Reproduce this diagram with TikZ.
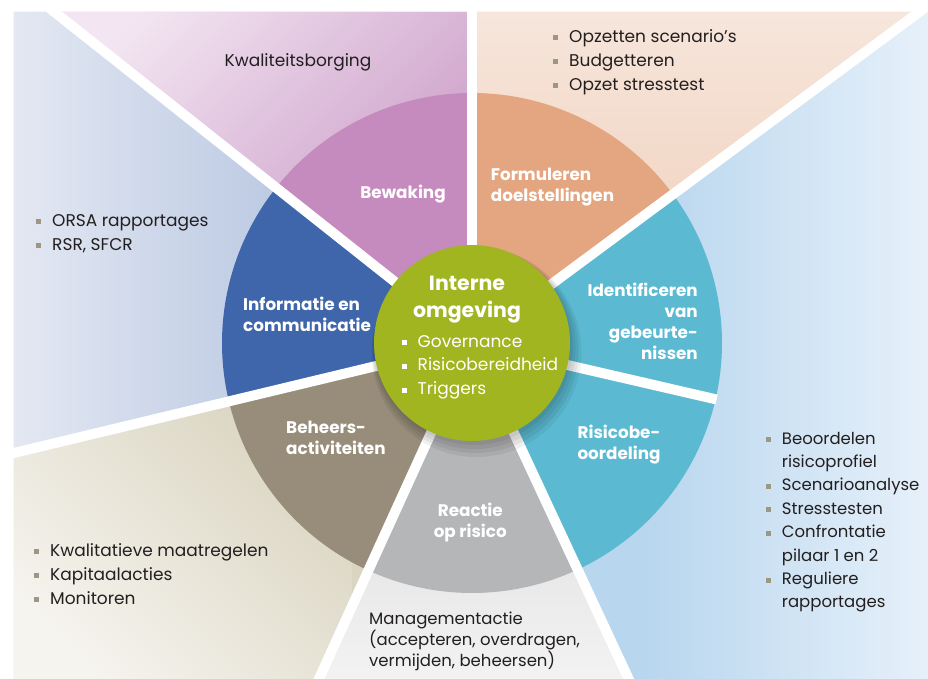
\documentclass[tikz,border=0pt]{standalone}
\usepackage{fontspec}
\setmainfont{Poppins}
\usepackage{tikz}
\usetikzlibrary{positioning}
\definecolor{tealseg}{HTML}{5BBAD2}
\definecolor{orangeseg}{HTML}{E3A680}
\definecolor{purpleseg}{HTML}{C58BBE}
\definecolor{blueseg}{HTML}{3F65AA}
\definecolor{brownseg}{HTML}{978D7A}
\definecolor{grayseg}{HTML}{B5B6B8}
\definecolor{greenhub}{HTML}{A0B51F}
\definecolor{bulletgray}{HTML}{9C9684}
\definecolor{textdark}{HTML}{231F20}
\definecolor{rblueA}{HTML}{B8D6EE}
\definecolor{rblueB}{HTML}{F2F7FD}
\definecolor{peachA}{HTML}{F8EAE1}
\definecolor{peachB}{HTML}{F1D5C3}
\definecolor{lilacA}{HTML}{F3E6F2}
\definecolor{lilacB}{HTML}{CB9CC7}
\definecolor{lblueA}{HTML}{E5E9F3}
\definecolor{lblueB}{HTML}{BDCBE3}
\definecolor{beigeA}{HTML}{F6F4EF}
\definecolor{beigeB}{HTML}{DAD5C1}
\definecolor{lgrayA}{HTML}{E2E2E2}
\definecolor{lgrayB}{HTML}{F3F3F3}
\tikzstyle{sep} = [line width=10pt, white]
\tikzstyle{listtext} = [inner sep=0pt, align=left, text=textdark, font=\fontsize{17}{24}\selectfont]
\tikzstyle{seglabel} = [inner sep=0pt, text=white, font=\fontsize{16.8}{21}\selectfont\bfseries]
\newcommand{\sqb}[1][bulletgray]{\makebox[16pt][l]{\textcolor{#1}{\rule[2pt]{5pt}{5pt}}}}

\begin{document}
\begin{tikzpicture}[x=1pt, y=1pt]
    \useasboundingbox (-472,-336) rectangle (456,343);

    % outer fields
    \begin{scope}
        \clip (0,0) -- (156.7,-336) -- (456,-336) -- (456,331) -- (447,331) -- cycle;
        \fill[rblueA] (0,-340) rectangle (460,340);
        \shade[left color=rblueA, right color=rblueB] (170,-340) rectangle (530,340);
    \end{scope}
    \begin{scope}
        \clip (0,0) -- (447,331) -- (0,331) -- cycle;
        \fill[peachB] (0,0) rectangle (460,340);
        \shade[top color=peachA, bottom color=peachB] (0,120) rectangle (460,380);
    \end{scope}
    \begin{scope}
        \clip (0,0) -- (0,331) -- (-417.6,331) -- cycle;
        \fill[lilacB] (-430,0) rectangle (0,340);
        \shade[top color=lilacA, bottom color=lilacB, shading angle=45] (-430,60) rectangle (0,340);
    \end{scope}
    \begin{scope}
        \clip (0,0) -- (-417.6,331) -- (-458,331) -- (-458,-110) -- cycle;
        \fill[lblueB] (-470,-120) rectangle (0,340);
        \shade[left color=lblueA, right color=lblueB] (-470,-120) rectangle (-200,340);
    \end{scope}
    \begin{scope}
        \clip (0,0) -- (-458,-110) -- (-458,-336) -- (-153,-336) -- cycle;
        \fill[beigeB] (-470,-340) rectangle (0,0);
        \shade[top color=beigeB, bottom color=beigeA, shading angle=-45] (-470,-340) rectangle (-120,-60);
    \end{scope}
    \begin{scope}
        \clip (0,0) -- (-153,-336) -- (156.7,-336) -- cycle;
        \fill[lgrayA] (-160,-340) rectangle (160,0);
        \shade[top color=lgrayA, bottom color=lgrayB] (-160,-340) rectangle (160,-160);
    \end{scope}

    % disc
    \foreach \a/\b/\c in {-13/36.5/tealseg, 36.5/90/orangeseg, 90/141.6/purpleseg, 141.6/193.5/blueseg,
                          193.5/245.5/brownseg, 245.5/295/grayseg, 295/347/tealseg}
        \fill[\c] (0,0) -- (\a:250) arc[start angle=\a, end angle=\b, radius=250] -- cycle;

    \foreach \a in {36.5, 90, 141.6, 193.5, 245.5, 295}
        \draw[sep] (0,0) -- (\a:600);
    \draw[sep] (0,0) -- (-13:251);

    % hub
    \foreach \s in {7,5,3,1}
        \fill[black, opacity=0.06] (0.5*\s+1,-\s-2) circle (98+\s);
    \fill[greenhub] (0,0) circle (98);

    \node[inner sep=0pt, anchor=north, align=center, text=white, font=\fontsize{20.5}{26.5}\selectfont\bfseries] (hubtitle) at (-5,67) {Interne\\omgeving};
    \node[inner sep=0pt, anchor=north west, align=left, text=white, font=\fontsize{17}{23.7}\selectfont] (hublist) at (-70.5,8)
        {\sqb[white]Governance\\ \sqb[white]Risicobereidheid\\ \sqb[white]Triggers};

    % segment labels
    \node[seglabel, anchor=base] (bewaking) at (-69,144.7) {Bewaking};
    \node[seglabel, anchor=north west, align=left] (formuleren) at (18.7,174.7) {Formuleren\\doelstellingen};
    \node[seglabel, anchor=north east, align=right] (identificeren) at (226,59.7) {Identificeren\\van\\gebeurte-\\nissen};
    \node[seglabel, anchor=north, align=center] (beoordeling) at (147,-82) {Risicobe-\\oordeling};
    \node[seglabel, anchor=north, align=center] (reactie) at (-1.7,-160.3) {Reactie\\op risico};
    \node[seglabel, anchor=north west, align=left] (beheers) at (-186,-77.7) {Beheers-\\activiteiten};
    \node[seglabel, anchor=north west, align=left] (informatie) at (-229,46.3) {Informatie en\\communicatie};

    % outer texts
    \node[listtext, anchor=base] (kwaliteit) at (-174,276.3) {Kwaliteitsborging};
    \node[listtext, anchor=north west] (opzet) at (81,314)
        {\sqb Opzetten scenario’s\\ \sqb Budgetteren\\ \sqb Opzet stresstest};
    \node[listtext, anchor=north west] (orsa) at (-436,128.7)
        {\sqb ORSA rapportages\\ \sqb RSR, SFCR};
    \node[listtext, anchor=north west] (maatregelen) at (-438,-200.3)
        {\sqb Kwalitatieve maatregelen\\ \sqb Kapitaalacties\\ \sqb Monitoren};
    \node[listtext, anchor=north west, font=\fontsize{16.5}{23.4}\selectfont] (profiel) at (293.7,-88.7)
        {\sqb Beoordelen\\ \hspace*{16pt}risicoprofiel\\ \sqb Scenarioanalyse\\ \sqb Stresstesten\\
         \sqb Confrontatie\\ \hspace*{16pt}pilaar 1 en 2\\ \sqb Reguliere\\ \hspace*{16pt}rapportages};
    \node[listtext, anchor=north west, font=\fontsize{16.5}{21}\selectfont] (management) at (-103,-268.7)
        {Managementactie\\(accepteren, overdragen,\\vermijden, beheersen)};
\end{tikzpicture}
\end{document}
